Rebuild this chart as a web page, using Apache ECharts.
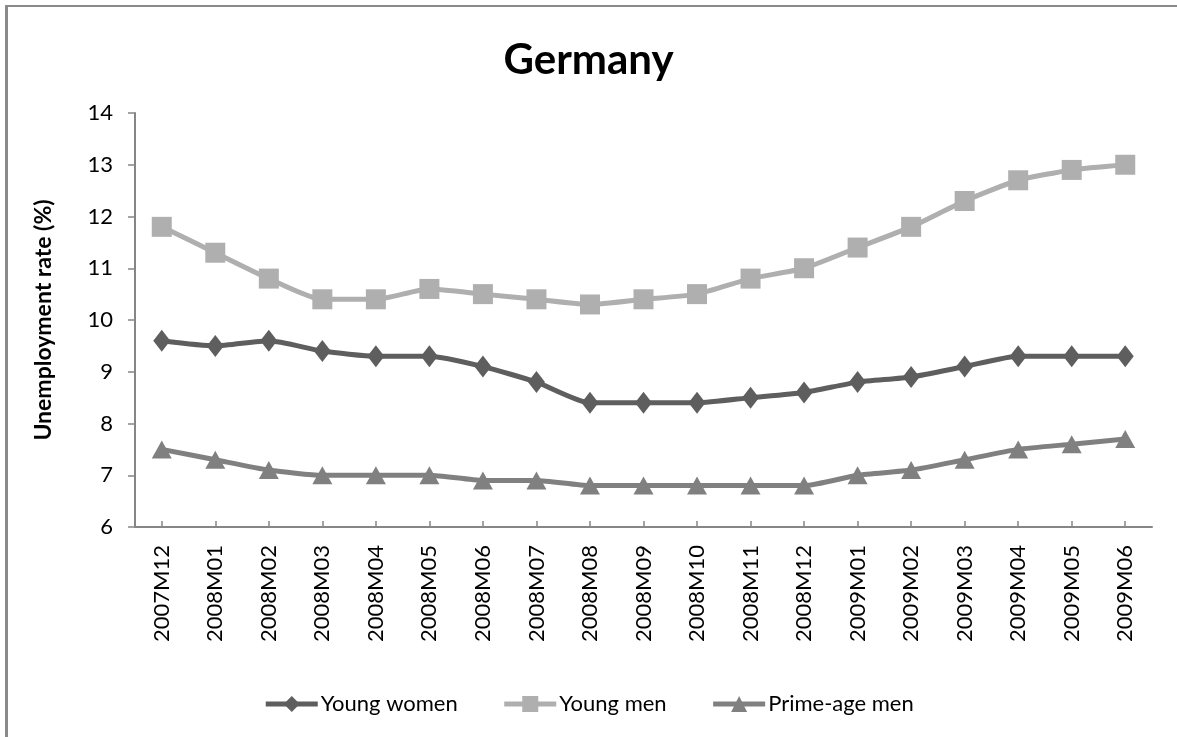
<!DOCTYPE html>
<html><head><meta charset="utf-8">
<script src="https://cdn.jsdelivr.net/npm/echarts@6/dist/echarts.min.js"></script>
<style>html,body{margin:0;padding:0;background:#fff}#c{width:1177px;height:737px}</style>
</head><body><div id="c"></div>
<script>
const categories = ["2007M12","2008M01","2008M02","2008M03","2008M04","2008M05","2008M06","2008M07","2008M08","2008M09","2008M10","2008M11","2008M12","2009M01","2009M02","2009M03","2009M04","2009M05","2009M06"];
const youngWomen = [9.6,9.5,9.6,9.4,9.3,9.3,9.1,8.8,8.4,8.4,8.4,8.5,8.6,8.8,8.9,9.1,9.3,9.3,9.3];
const youngMen = [11.8,11.3,10.8,10.4,10.4,10.6,10.5,10.4,10.3,10.4,10.5,10.8,11.0,11.4,11.8,12.3,12.7,12.9,13.0];
const primeAgeMen = [7.5,7.3,7.1,7.0,7.0,7.0,6.9,6.9,6.8,6.8,6.8,6.8,6.8,7.0,7.1,7.3,7.5,7.6,7.7];
const yTicks = {min:6, max:14, interval:1};

const font = 'Lato, "Open Sans", sans-serif';
const chart = echarts.init(document.getElementById('c'), null, {renderer:'canvas'});
function mk(name, data, color, symbol, size){
  return {name, type:'line', data, smooth:0.2, symbol, symbolSize:size,
    lineStyle:{color, width:5}, itemStyle:{color}, animation:false};
}
chart.setOption({
  backgroundColor:'#fff',
  animation:false,
  title:{text:'Germany', left:'center', top:34, textStyle:{fontFamily:font, fontSize:42, fontWeight:'bold', color:'#000'}},
  grid:{left:135, right:25, top:113, bottom:210, containLabel:false},
  legend:{top:688, left:'center', itemWidth:52, itemHeight:20, itemGap:44,
    lineStyle:{width:5},
    textStyle:{fontFamily:font, fontSize:22, color:'#000', padding:[0,0,0,-2]},
    data:['Young women','Young men','Prime-age men']},
  xAxis:{type:'category', data:categories, boundaryGap:true,
    axisLine:{lineStyle:{color:'#868686', width:2}},
    axisTick:{show:true, inside:true, alignWithLabel:true, length:6, lineStyle:{color:'#868686', width:1.5}},
    axisLabel:{rotate:90, interval:0, fontFamily:font, fontSize:22, color:'#000', margin:18}},
  yAxis:{type:'value', min:yTicks.min, max:yTicks.max, interval:yTicks.interval,
    name:'Unemployment rate (%)', nameLocation:'middle', nameGap:80, nameRotate:90,
    nameTextStyle:{fontFamily:font, fontSize:23, fontWeight:'bold', color:'#000'},
    axisLine:{show:true, lineStyle:{color:'#868686', width:2}},
    axisTick:{show:true, length:7, lineStyle:{color:'#868686', width:1.5}},
    splitLine:{show:false},
    axisLabel:{fontFamily:font, fontSize:22, color:'#000', margin:22}},
  graphic:[
    {type:'rect', shape:{x:5, y:5, width:1172, height:2}, style:{fill:'#8a8a8a'}, silent:true},
    {type:'rect', shape:{x:5, y:5, width:3, height:732}, style:{fill:'#8a8a8a'}, silent:true}
  ],
  series:[
    mk('Young women', youngWomen, '#5e5e5e', 'diamond', [17,22]),
    mk('Young men', youngMen, '#afafaf', 'rect', 20),
    mk('Prime-age men', primeAgeMen, '#808080', 'triangle', [20,18])
  ]
});
</script></body></html>
